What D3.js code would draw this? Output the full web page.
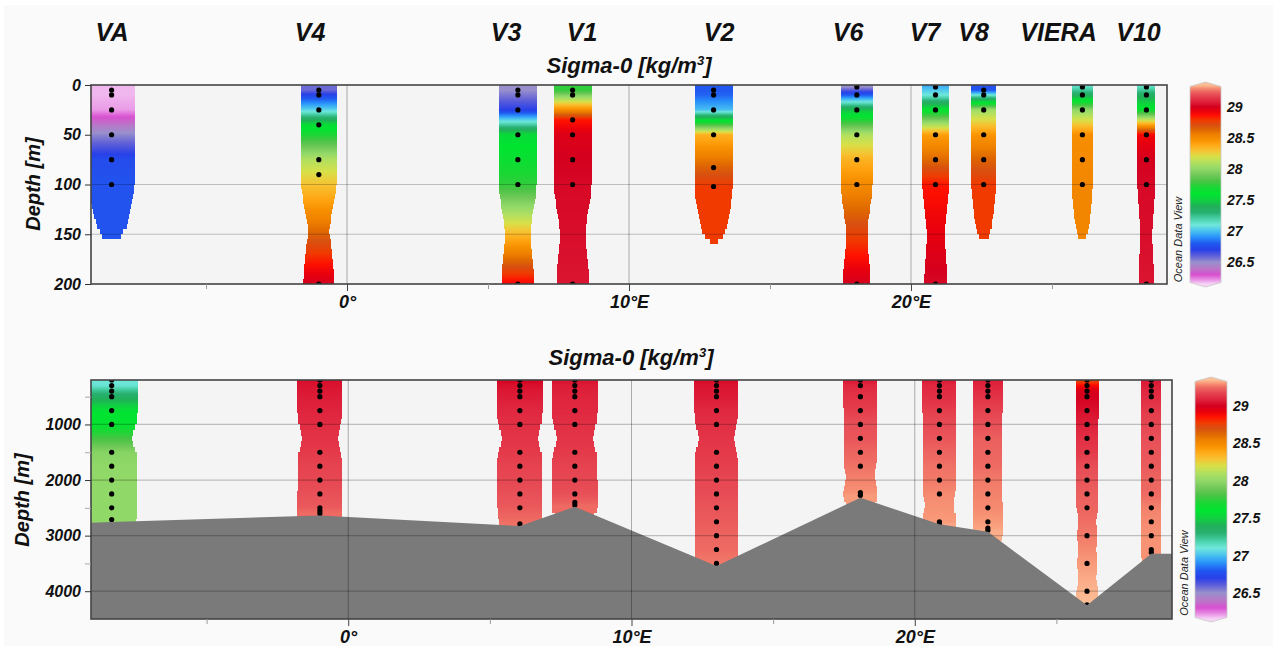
<!DOCTYPE html>
<html lang="en">
<head>
<meta charset="utf-8">
<title>Sigma-0 section</title>
<script src="https://cdn.jsdelivr.net/npm/d3@7"></script>
<style>
  html, body { margin: 0; padding: 0; background: #ffffff; }
  svg { display: block; }
  svg text { font-family: "Liberation Sans", Arial, Helvetica, sans-serif; }
</style>
</head>
<body>
<svg id="chart" width="1273" height="646"></svg>
<script>
// ---------------- data ----------------
const stations = ["VA", "V4", "V3", "V1", "V2", "V6", "V7", "V8", "VIERA", "V10"];
const longitudes = [-8.35, -1.0, 6.06, 8.0, 13.0, 18.08, 20.87, 22.58, 26.08, 28.35];

// upper 200 m casts: sample depths [m] and sigma-0 [kg/m3]
const upperDepths = [
  [5, 10, 25, 50, 75, 100],
  [5, 10, 25, 40, 75, 90, 200],
  [5, 10, 25, 50, 75, 100, 200],
  [5, 10, 35, 50, 75, 100, 200],
  [5, 10, 25, 50, 83, 102],
  [2, 10, 25, 50, 75, 100, 200],
  [2, 10, 25, 50, 75, 100, 200],
  [5, 10, 25, 50, 75, 100],
  [2, 10, 25, 50, 75, 100],
  [2, 10, 25, 50, 75, 100, 200]
];
const upperSigma = [
  [26.18, 26.18, 26.21, 26.52, 26.75, 26.78],
  [26.58, 26.72, 27.05, 27.55, 28.10, 28.22, 29.00],
  [26.50, 26.55, 26.70, 27.55, 27.65, 27.75, 28.90],
  [27.75, 27.95, 28.85, 28.97, 29.00, 29.02, 29.05],
  [26.80, 26.82, 27.00, 28.35, 28.65, 28.78],
  [26.50, 26.80, 27.45, 28.10, 28.35, 28.50, 29.00],
  [26.97, 27.10, 27.60, 28.42, 28.62, 28.85, 29.02],
  [26.78, 27.10, 28.05, 28.45, 28.64, 28.78],
  [27.15, 27.35, 28.00, 28.48, 28.50, 28.52],
  [27.15, 27.35, 27.65, 28.90, 29.00, 29.02, 29.05]
];

// full-depth casts
const deepDepths = [
  [200, 300, 400, 500, 750, 1000, 1500, 1750, 2000, 2250, 2500, 2710],
  [200, 300, 400, 500, 750, 1000, 1500, 1750, 2000, 2250, 2500, 2550, 2600],
  [200, 300, 400, 500, 750, 1000, 1500, 1750, 2000, 2250, 2500, 2790],
  [200, 300, 400, 500, 750, 1000, 1500, 1750, 2000, 2250, 2400, 2450],
  [200, 300, 400, 500, 750, 1000, 1500, 1750, 2000, 2250, 2500, 2750, 3000, 3250, 3500],
  [200, 300, 500, 750, 1000, 1250, 1500, 1750, 2225, 2275],
  [200, 300, 400, 500, 750, 1000, 1250, 1500, 1750, 2000, 2250, 2750, 2780],
  [200, 300, 400, 500, 750, 1000, 1250, 1500, 1750, 2000, 2250, 2500, 2750, 2865, 2905],
  [200, 300, 400, 500, 750, 1000, 1250, 1500, 1750, 2000, 2250, 2500, 3000, 3500, 4000, 4245],
  [200, 300, 400, 500, 750, 1000, 1250, 1500, 1750, 2000, 2250, 2500, 2750, 3000, 3250, 3300]
];
const deepSigma = [
  [27.10, 27.12, 27.25, 27.35, 27.58, 27.62, 27.97, 28.00, 28.00, 28.00, 28.00, 28.00],
  [29.03, 29.05, 29.06, 29.07, 29.09, 29.11, 29.15, 29.17, 29.18, 29.20, 29.22, 29.24, 29.25],
  [29.00, 29.04, 29.06, 29.07, 29.10, 29.12, 29.15, 29.17, 29.18, 29.20, 29.22, 29.26],
  [29.04, 29.07, 29.08, 29.09, 29.10, 29.12, 29.15, 29.17, 29.18, 29.20, 29.23, 29.25],
  [29.02, 29.05, 29.06, 29.07, 29.10, 29.12, 29.15, 29.16, 29.18, 29.19, 29.21, 29.22, 29.24, 29.25, 29.27],
  [29.05, 29.10, 29.13, 29.16, 29.20, 29.21, 29.24, 29.26, 29.30, 29.31],
  [29.06, 29.10, 29.11, 29.12, 29.16, 29.19, 29.21, 29.24, 29.26, 29.27, 29.29, 29.31, 29.32],
  [29.07, 29.09, 29.11, 29.13, 29.17, 29.20, 29.23, 29.24, 29.25, 29.27, 29.28, 29.29, 29.31, 29.32, 29.33],
  [28.72, 28.88, 28.98, 29.00, 29.04, 29.08, 29.12, 29.15, 29.19, 29.21, 29.23, 29.24, 29.27, 29.31, 29.34, 29.35],
  [29.06, 29.08, 29.10, 29.11, 29.15, 29.18, 29.20, 29.21, 29.22, 29.24, 29.25, 29.28, 29.29, 29.30, 29.30, 29.30]
];

// bathymetry along the section
const seabedLon   = [-9.08, -8.35, -1.0, 6.06, 8.0, 13.0, 18.08, 20.87, 22.58, 26.08, 28.35, 29.08];
const seabedDepth = [2768, 2756, 2636, 2828, 2481, 3546, 2319, 2795, 2932, 4254, 3326, 3326];

// ticks
const colourTicks = [26.5, 27, 27.5, 28, 28.5, 29];
const upperDepthTicks = [0, 50, 100, 150, 200];
const upperGridDepths = [100, 150];
const deepDepthTicks = [1000, 2000, 3000, 4000];
const deepMinorTicks = [500, 1500, 2500, 3500];
const lonTicks = [0, 10, 20];
const lonTickLabels = ["0°", "10°E", "20°E"];
const lonMinorTicks = [-5, 5, 15, 25];

// colour palette (sigma-0 -> colour)
const paletteSigma = [26.15, 26.22, 26.30, 26.40, 26.50, 26.60, 26.70, 26.80, 26.90, 27.00,
                      27.10, 27.20, 27.30, 27.40, 27.50, 27.60, 27.70, 27.80, 27.90, 28.00,
                      28.10, 28.20, 28.30, 28.40, 28.47, 28.55, 28.62, 28.70, 28.78, 28.86,
                      28.93, 29.00, 29.05, 29.10, 29.15, 29.20, 29.25, 29.30, 29.35];
const paletteColor = ["#f6d4f6", "#e890e4", "#d850d0", "#b878c8", "#9890cc", "#6060d8", "#2840e8", "#2058f0", "#2890fa", "#48c0f0",
                      "#70e8dc", "#48d0a8", "#28b070", "#20b058", "#10d040", "#00e430", "#18d834", "#48c444", "#70c858", "#90d868",
                      "#b0e060", "#d8e048", "#f8c030", "#ffa412", "#f89000", "#ee8000", "#e06a00", "#d85010", "#f03a00", "#ff1000",
                      "#e8000e", "#d4001e", "#da1430", "#e02840", "#e43a4a", "#e85058", "#ee6a62", "#f79274", "#fdbe96"];

// ---------------- layout ----------------
const labelX = [112, 310, 506, 582, 719, 848, 925, 973.5, 1058.5, 1138.5];
const upperHalfWidth = [23, 18, 19, 19, 19, 16, 13.5, 12.5, 10.5, 9];
const deepHalfWidth = [26, 22.5, 23, 23, 22, 17, 17, 15, 11.5, 10];
const lonDomain = [-9.08, 29.08];

const colour = d3.scaleLinear().domain(paletteSigma).range(paletteColor)
  .interpolate(d3.interpolateRgb).clamp(true);

// how far the gridded field reaches sideways, from the summed sample weight
const reach = d3.scaleLinear().domain([0.155, 0.2, 0.4, 0.85, 1.5, 2.0])
  .range([0, 0.4, 0.66, 0.82, 0.95, 1]).clamp(true);

const svg = d3.select("#chart");
const defs = svg.append("defs");

svg.append("rect").attr("x", 4).attr("y", 5).attr("width", 1269).attr("height", 641).attr("fill", "#fafafa");

function sigmaAt(ds, ss, d) {
  if (d <= ds[0]) return ss[0];
  if (d >= ds[ds.length - 1]) return ss[ss.length - 1];
  const i = d3.bisectRight(ds, d);
  const t = (d - ds[i - 1]) / (ds[i] - ds[i - 1]);
  return ss[i - 1] + t * (ss[i] - ss[i - 1]);
}

function columnGradient(id, ds, ss, y, d0, d1) {
  const y0 = y(d0), y1 = y(d1);
  const g = defs.append("linearGradient").attr("id", id)
    .attr("gradientUnits", "userSpaceOnUse")
    .attr("x1", 0).attr("x2", 0).attr("y1", y0).attr("y2", y1);
  const n = Math.max(2, Math.ceil(Math.abs(y1 - y0)));
  d3.range(n + 1).forEach(k => {
    const d = d0 + (d1 - d0) * k / n;
    g.append("stop").attr("offset", k / n).attr("stop-color", colour(sigmaAt(ds, ss, d)));
  });
}

// blocky column outline built cell by cell, as the gridded field is
function columnCells(ds, cx, hw0, p, y) {
  const first = ds[0], last = ds[ds.length - 1];
  let path = "";
  for (let d = p.dom[0] - p.cell; d < p.dom[1] + p.cell; d += p.cell) {
    const c = d + p.cell / 2;
    if (c < first - p.ext || c > last + p.ext) continue;
    const w = d3.sum(ds, di => Math.exp(-Math.pow((c - di) / p.L, 2)));
    const f = c < first ? 1 : reach(w);
    const hw = Math.round(2 * hw0 * f) / 2;
    if (hw <= 0) continue;
    const ya = y(d), yb = y(d + p.cell);
    path += `M${cx - hw},${ya}H${cx + hw}V${yb}H${cx - hw}Z`;
  }
  return path;
}

const italicBold = sel => sel.style("font-weight", "bold").style("font-style", "italic");

// station names along the top
svg.append("g").selectAll("text").data(stations).join("text")
  .attr("x", (d, i) => labelX[i]).attr("y", 40.5)
  .attr("text-anchor", "middle").style("font-size", "25px").call(italicBold)
  .attr("fill", "#111").text(d => d);

const panels = [
  {
    id: "upper", xr: [91, 1167], yr: [85, 284], dom: [0, 200],
    depths: upperDepths, sigma: upperSigma, hw: upperHalfWidth,
    L: 40, cell: 5, ext: 58,
    title: [629, 72.5], depthTitle: [40, 184],
    yTicks: upperDepthTicks, yMinor: [], grid: upperGridDepths,
    cbar: { x: 1190, w: 31 }, odv: [1182, 239.5], seabed: false
  },
  {
    id: "deep", xr: [91, 1172], yr: [380, 619], dom: [200, 4500],
    depths: deepDepths, sigma: deepSigma, hw: deepHalfWidth,
    L: 250, cell: 100, ext: 210,
    title: [631, 365], depthTitle: [29, 500],
    yTicks: deepDepthTicks, yMinor: deepMinorTicks, grid: deepDepthTicks,
    cbar: { x: 1195, w: 32 }, odv: [1187.5, 573], seabed: true
  }
];

panels.forEach(p => {
  const x = d3.scaleLinear().domain(lonDomain).range(p.xr);
  const y = d3.scaleLinear().domain(p.dom).range(p.yr);
  const [x0, x1] = p.xr, [y0, y1] = p.yr;

  defs.append("clipPath").attr("id", "clip-" + p.id)
    .append("rect").attr("x", x0).attr("y", y0).attr("width", x1 - x0).attr("height", y1 - y0);

  const plot = svg.append("g").attr("clip-path", `url(#clip-${p.id})`);
  plot.append("rect").attr("x", x0).attr("y", y0).attr("width", x1 - x0).attr("height", y1 - y0)
    .attr("fill", "#f4f4f4");

  // gridded station columns
  stations.forEach((s, i) => {
    const ds = p.depths[i], ss = p.sigma[i];
    const dTop = p.dom[0] - p.cell, dBot = ds[ds.length - 1] + p.ext + p.cell;
    const gid = `grad-${p.id}-${i}`;
    columnGradient(gid, ds, ss, y, dTop, dBot);
    plot.append("path").attr("d", columnCells(ds, x(longitudes[i]), p.hw[i], p, y))
      .attr("fill", `url(#${gid})`).attr("shape-rendering", "crispEdges");
  });

  // sample positions
  stations.forEach((s, i) => {
    plot.append("g").selectAll("circle").data(p.depths[i]).join("circle")
      .attr("cx", x(longitudes[i])).attr("cy", d => y(d)).attr("r", 2.6).attr("fill", "#000");
  });

  // bathymetry
  if (p.seabed) {
    const pts = seabedLon.map((l, k) => [x(l), y(seabedDepth[k])]);
    pts.push([x(lonDomain[1]) + 2, y1 + 5], [x(lonDomain[0]) - 2, y1 + 5]);
    plot.append("path").attr("d", d3.line()(pts) + "Z").attr("fill", "#7a7a7a");
  }

  // grid
  plot.append("g").selectAll("line").data(p.grid).join("line")
    .attr("x1", x0).attr("x2", x1).attr("y1", d => y(d)).attr("y2", d => y(d))
    .attr("stroke", "#000").attr("stroke-opacity", 0.22).attr("stroke-width", 1.2);
  plot.append("g").selectAll("line").data(lonTicks).join("line")
    .attr("x1", d => x(d)).attr("x2", d => x(d)).attr("y1", y0).attr("y2", y1)
    .attr("stroke", "#000").attr("stroke-opacity", 0.3).attr("stroke-width", 1);

  // frame
  svg.append("rect").attr("x", x0).attr("y", y0).attr("width", x1 - x0).attr("height", y1 - y0)
    .attr("fill", "none").attr("stroke", "#444").attr("stroke-width", 1.6);

  // x axis
  const xAxis = svg.append("g").attr("transform", `translate(0,${y1})`)
    .call(d3.axisBottom(x).tickValues(lonTicks).tickSize(7).tickPadding(4)
      .tickFormat((d, k) => lonTickLabels[k]));
  xAxis.select(".domain").remove();
  xAxis.selectAll("line").attr("stroke", "#444");
  xAxis.selectAll("text").style("font-size", "18px").call(italicBold).attr("fill", "#111")
    .style("font-family", '"Liberation Sans", Arial, sans-serif');
  const xMinor = svg.append("g").attr("transform", `translate(0,${y1})`)
    .call(d3.axisBottom(x).tickValues(lonMinorTicks).tickSize(5).tickFormat(""));
  xMinor.select(".domain").remove();
  xMinor.selectAll("line").attr("stroke", "#999");

  // y axis
  const yAxis = svg.append("g").attr("transform", `translate(${x0},0)`)
    .call(d3.axisLeft(y).tickValues(p.yTicks).tickSize(6).tickPadding(4).tickFormat(d3.format("d")));
  yAxis.select(".domain").remove();
  yAxis.selectAll("line").attr("stroke", "#333");
  yAxis.selectAll("text").style("font-size", "16px").call(italicBold).attr("fill", "#111")
    .style("font-family", '"Liberation Sans", Arial, sans-serif');
  if (p.yMinor.length) {
    const yMinor = svg.append("g").attr("transform", `translate(${x0},0)`)
      .call(d3.axisLeft(y).tickValues(p.yMinor).tickSize(6).tickFormat(""));
    yMinor.select(".domain").remove();
    yMinor.selectAll("line").attr("stroke", "#aaa");
  }

  // titles
  const t = svg.append("text").attr("x", p.title[0]).attr("y", p.title[1])
    .attr("text-anchor", "middle").style("font-size", "22px").call(italicBold).attr("fill", "#111");
  t.append("tspan").text("Sigma-0 [kg/m");
  t.append("tspan").attr("dy", -8).style("font-size", "13px").text("3");
  t.append("tspan").attr("dy", 8).text("]");

  svg.append("text").attr("transform", `translate(${p.depthTitle[0]},${p.depthTitle[1]}) rotate(-90)`)
    .attr("text-anchor", "middle").style("font-size", "20px").call(italicBold).attr("fill", "#111")
    .text("Depth [m]");

  // colour bar
  const cb = p.cbar;
  const cy = d3.scaleLinear().domain([paletteSigma[0], paletteSigma[paletteSigma.length - 1]]).range([y1, y0]);
  const gTop = y0 - 3, gBot = y1 + 3;
  const cg = defs.append("linearGradient").attr("id", "cbar-" + p.id)
    .attr("gradientUnits", "userSpaceOnUse").attr("x1", 0).attr("x2", 0).attr("y1", gTop).attr("y2", gBot);
  paletteSigma.map((s, k) => ({ off: (cy(s) - gTop) / (gBot - gTop), col: paletteColor[k] }))
    .sort((a, b) => a.off - b.off)
    .forEach(st => cg.append("stop").attr("offset", st.off).attr("stop-color", st.col));
  const xm = cb.x + cb.w / 2, xr = cb.x + cb.w;
  const cbPts = [[cb.x, y0 + 1.5], [xm, gTop], [xr, y0 + 1.5], [xr, y1 - 1.5], [xm, gBot], [cb.x, y1 - 1.5]];
  svg.append("path").attr("d", d3.line()(cbPts) + "Z").attr("fill", `url(#cbar-${p.id})`)
    .attr("stroke", "#c8c8c8").attr("stroke-width", 0.8);
  const cAxis = svg.append("g").attr("transform", `translate(${xr},0)`)
    .call(d3.axisRight(cy).tickValues(colourTicks).tickSize(0).tickPadding(6).tickFormat(d => String(d)));
  cAxis.select(".domain").remove();
  cAxis.selectAll("text").style("font-size", "14px").call(italicBold).attr("fill", "#111")
    .style("font-family", '"Liberation Sans", Arial, sans-serif');

  svg.append("text").attr("transform", `translate(${p.odv[0]},${p.odv[1]}) rotate(-90)`)
    .attr("text-anchor", "middle").style("font-size", "11px").style("font-style", "italic")
    .attr("fill", "#222").text("Ocean Data View");
});
</script>
</body>
</html>
